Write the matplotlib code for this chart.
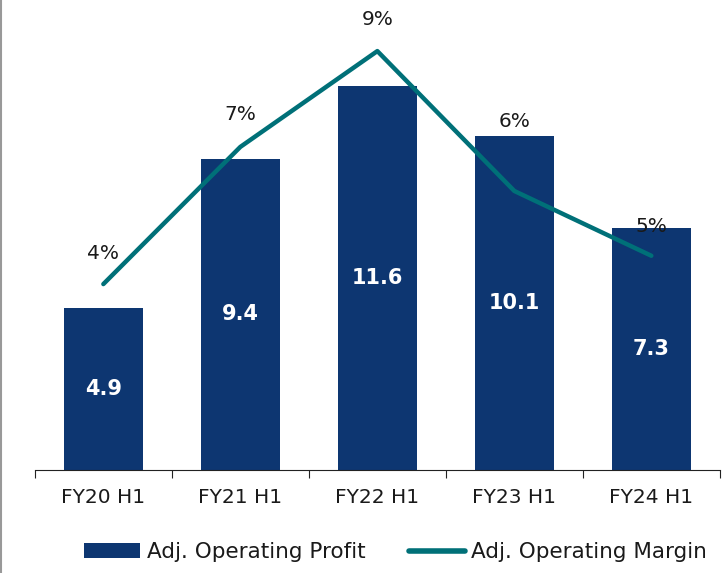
import matplotlib.pyplot as plt
from matplotlib.lines import Line2D

periods = ["FY20 H1", "FY21 H1", "FY22 H1", "FY23 H1", "FY24 H1"]
profit = [4.9, 9.4, 11.6, 10.1, 7.3]
margin = [4.13, 7.18, 9.31, 6.2, 4.76]
margin_labels = ["4%", "7%", "9%", "6%", "5%"]

navy = "#0D3671"
teal = "#007078"
plt.rcParams["font.family"] = ["DejaVu Sans"]

fig = plt.figure(figsize=(7.26, 5.73), dpi=100)
ax = fig.add_axes([0.048, 0.18, 0.9435, 0.785])
x = range(len(periods))

bars = ax.bar(x, profit, width=0.58, color=navy, label="Adj. Operating Profit")
for b, v in zip(bars, profit):
    ax.text(b.get_x() + b.get_width() / 2, v / 2, f"{v:.1f}",
            ha="center", va="center", color="white", fontsize=15, fontweight="bold")

ax.set_xlim(-0.5, 4.5)
ax.set_ylim(0, 13.6)
ax.set_yticks([])
for s in ["top", "right", "left"]:
    ax.spines[s].set_visible(False)
ax.spines["bottom"].set_color("#222222")
ax.set_xticks([i - 0.5 for i in range(len(periods) + 1)])
ax.set_xticklabels([])
ax.tick_params(axis="x", which="major", length=6, direction="out", color="#222222")
ax.set_xticks(list(x), minor=True)
ax.set_xticklabels(periods, minor=True, fontsize=14.5, color="#1a1a1a")
ax.tick_params(axis="x", which="minor", length=0, pad=13)

ax2 = ax.twinx()
ax2.set_ylim(0, 10)
ax2.axis("off")
ax2.plot(list(x), margin, color=teal, linewidth=3.2, solid_capstyle="round",
         label="Adj. Operating Margin")

# label offsets in points above each line point
offsets = [22, 23, 23, 50, 21]
for i, (m, lab) in enumerate(zip(margin, margin_labels)):
    ax2.annotate(lab, (i, m), xytext=(0, offsets[i]), textcoords="offset points",
                 ha="center", va="center", fontsize=14.5, color="#1a1a1a")

handles = [bars, Line2D([0], [0], color=teal, linewidth=4, solid_capstyle="round")]
fig.legend(handles, ["Adj. Operating Profit", "Adj. Operating Margin"],
           loc="lower center", bbox_to_anchor=(0.545, -0.015), ncol=2,
           frameon=False, fontsize=15.5, handlelength=2.6, handleheight=0.7,
           handletextpad=0.3, columnspacing=2.0, labelcolor="#1a1a1a")

fig.add_artist(Line2D([0.0015, 0.0015], [0, 1], transform=fig.transFigure,
                      color="#999999", linewidth=1.5))

fig.savefig("out.png", dpi=100)
